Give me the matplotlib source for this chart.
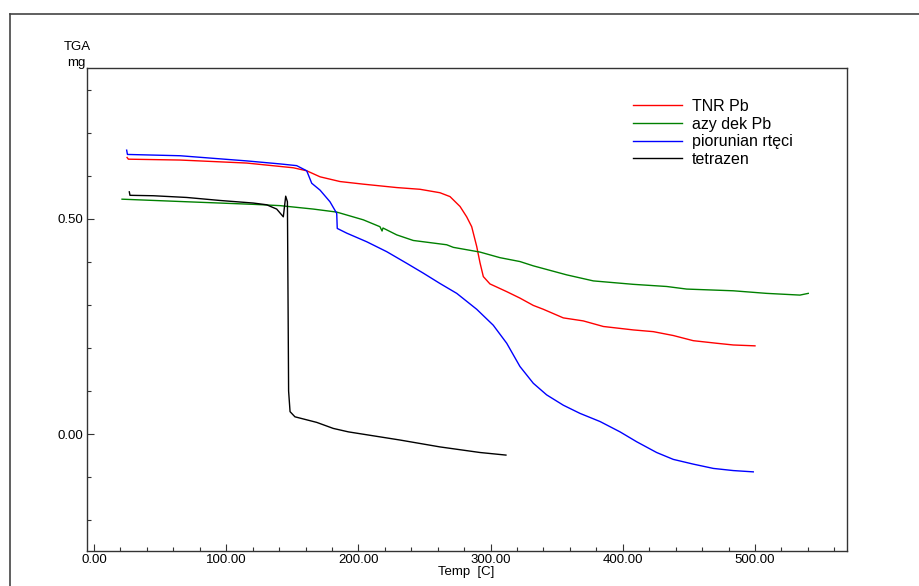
import matplotlib
matplotlib.use('Agg')
import matplotlib.pyplot as plt
from matplotlib.lines import Line2D
from matplotlib.ticker import MultipleLocator, FormatStrFormatter

plt.rcParams['font.family'] = ['Liberation Sans', 'DejaVu Sans']

# TGA curves, temperature [C] vs mass [mg]
tnr_t = [25.0, 26.0, 65.1, 115.5, 150.8, 160.9, 171.0, 186.1, 203.5, 229.0, 246.6, 261.7,
         269.3, 276.9, 281.9, 285.7, 289.5, 292.0, 294.5, 299.5, 312.2, 322.2, 332.3, 339.9,
         355.0, 370.1, 385.3, 408.0, 423.1, 438.2, 453.3, 471.0, 483.6, 500.0]
tnr_m = [0.643, 0.639, 0.637, 0.630, 0.619, 0.612, 0.598, 0.587, 0.581, 0.573, 0.569, 0.561,
         0.552, 0.529, 0.505, 0.482, 0.436, 0.398, 0.366, 0.349, 0.331, 0.316, 0.299, 0.290,
         0.270, 0.263, 0.250, 0.242, 0.238, 0.229, 0.217, 0.211, 0.207, 0.205]

azy_t = [21.2, 70.1, 120.5, 140.7, 165.9, 183.6, 203.7, 216.3, 217.9, 218.6, 229.0, 241.5,
         266.8, 271.8, 292.0, 307.1, 322.2, 332.3, 357.6, 377.7, 408.0, 433.2, 448.3, 483.6,
         508.8, 534.0, 540.3]
azy_m = [0.546, 0.540, 0.534, 0.531, 0.523, 0.516, 0.498, 0.482, 0.472, 0.479, 0.463, 0.450,
         0.440, 0.434, 0.423, 0.410, 0.401, 0.391, 0.370, 0.356, 0.348, 0.343, 0.337, 0.333,
         0.327, 0.323, 0.327]

pio_t = [24.7, 25.3, 65.1, 90.2, 115.5, 140.7, 153.3, 160.9, 164.7, 171.0, 178.5, 183.6,
         184.0, 191.2, 206.3, 221.4, 236.5, 249.1, 261.7, 274.4, 289.5, 302.0, 312.2, 322.2,
         332.3, 342.4, 355.0, 367.6, 382.8, 397.9, 410.5, 425.6, 438.2, 453.3, 468.5, 483.6,
         498.7]
pio_m = [0.660, 0.650, 0.647, 0.641, 0.635, 0.628, 0.624, 0.612, 0.583, 0.567, 0.540, 0.513,
         0.478, 0.467, 0.447, 0.424, 0.397, 0.374, 0.350, 0.327, 0.290, 0.253, 0.211, 0.157,
         0.118, 0.091, 0.067, 0.048, 0.029, 0.005, -0.018, -0.043, -0.059, -0.070, -0.080,
         -0.085, -0.088]

tet_t = [26.7, 27.2, 44.9, 70.1, 95.3, 120.5, 130.6, 138.2, 143.2, 145.0, 146.3, 146.8,
         147.2, 148.3, 152.0, 168.5, 181.0, 192.4, 231.5, 261.7, 292.0, 311.6]
tet_m = [0.563, 0.555, 0.554, 0.550, 0.543, 0.537, 0.533, 0.523, 0.505, 0.553, 0.540, 0.300,
         0.100, 0.052, 0.040, 0.027, 0.013, 0.005, -0.014, -0.030, -0.043, -0.049]

labels = ['TNR Pb', 'azy dek Pb', 'piorunian rtęci', 'tetrazen']
colors = ['#ff0000', '#008000', '#0000ff', '#000000']

fig = plt.figure(figsize=(9.2, 5.86), dpi=100)
ax = fig.add_axes([87 / 920, 1 - 551 / 586, 760 / 920, 483 / 586])

series = [(tnr_t, tnr_m), (azy_t, azy_m), (pio_t, pio_m), (tet_t, tet_m)]
for (t, m), lab, c in zip(series, labels, colors):
    ax.plot(t, m, color=c, lw=1.0, label=lab)

ax.set_xlim(-5.3, 569.6)
ax.set_ylim(-0.272, 0.851)
ax.xaxis.set_major_locator(MultipleLocator(100))
ax.xaxis.set_minor_locator(MultipleLocator(20))
ax.yaxis.set_major_locator(MultipleLocator(0.5))
ax.yaxis.set_minor_locator(MultipleLocator(0.1))
ax.xaxis.set_major_formatter(FormatStrFormatter('%.2f'))
ax.yaxis.set_major_formatter(FormatStrFormatter('%.2f'))
ax.tick_params(which='both', direction='in', labelsize=9.5, pad=2.5, width=0.8, color='#333333')
ax.tick_params(which='major', length=5)
ax.tick_params(which='minor', length=3)
for s in ax.spines.values():
    s.set_linewidth(1.0)
    s.set_color('#333333')

fig.text(466 / 920, 1 - 572 / 586, 'Temp  [C]', ha='center', va='center', fontsize=9.5)
fig.text(77 / 920, 1 - 47 / 586, 'TGA', ha='center', va='center', fontsize=9.5)
fig.text(76 / 920, 1 - 63 / 586, 'mg', ha='center', va='center', fontsize=9.5)

ax.legend(loc='upper left', bbox_to_anchor=(625 / 920, 1 - 91 / 586),
          bbox_transform=fig.transFigure, frameon=False, fontsize=11.5,
          handlelength=3.1, handletextpad=0.6, labelspacing=0.16, borderpad=0)

# outer frame
fig.add_artist(Line2D([10 / 920, 1.0], [1 - 14 / 586, 1 - 14 / 586],
                      transform=fig.transFigure, color='#444444', lw=1.2))
fig.add_artist(Line2D([10 / 920, 10 / 920], [0, 1 - 14 / 586],
                      transform=fig.transFigure, color='#444444', lw=1.2))

plt.savefig('out.png', dpi=100)
